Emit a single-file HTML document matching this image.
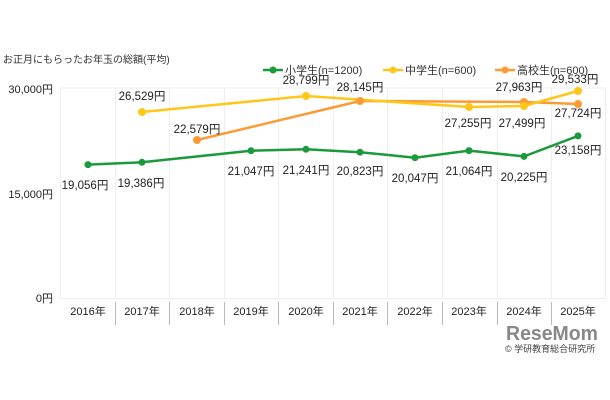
<!DOCTYPE html>
<html><head><meta charset="utf-8"><style>
body{margin:0;background:#fff;}
svg{display:block;font-family:"Liberation Sans","Noto Sans CJK JP",sans-serif;}
</style></head><body>
<svg width="610" height="400" viewBox="0 0 610 400">
<rect x="0" y="0" width="610" height="400" fill="#fff"/>
<text x="3" y="63" font-size="10" fill="#333">お正月にもらったお年玉の総額(平均)</text>
<g font-size="11" fill="#333">
<line x1="263" y1="70" x2="283" y2="70" stroke="#1a9a3a" stroke-width="2.5"/><circle cx="273" cy="70" r="3.5" fill="#1a9a3a"/>
<text x="285" y="74">小学生(n=1200)</text>
<line x1="383" y1="70" x2="403" y2="70" stroke="#ffc61a" stroke-width="2.5"/><circle cx="393" cy="70" r="3.5" fill="#ffc61a"/>
<text x="405" y="74">中学生(n=600)</text>
<line x1="495" y1="70" x2="515" y2="70" stroke="#ff9933" stroke-width="2.5"/><circle cx="505" cy="70" r="3.5" fill="#ff9933"/>
<text x="517" y="74">高校生(n=600)</text>
</g>
<g stroke="#eeeeee" stroke-width="1">
<line x1="60.5" y1="88" x2="60.5" y2="298"/><line x1="115.5" y1="88" x2="115.5" y2="298"/><line x1="169.5" y1="88" x2="169.5" y2="298"/><line x1="224.5" y1="88" x2="224.5" y2="298"/><line x1="278.5" y1="88" x2="278.5" y2="298"/><line x1="333.5" y1="88" x2="333.5" y2="298"/><line x1="387.5" y1="88" x2="387.5" y2="298"/><line x1="442.5" y1="88" x2="442.5" y2="298"/><line x1="497.5" y1="88" x2="497.5" y2="298"/><line x1="551.5" y1="88" x2="551.5" y2="298"/><line x1="605.5" y1="88" x2="605.5" y2="298"/>
<line x1="60" y1="88" x2="606" y2="88"/><line x1="60" y1="298.5" x2="606" y2="298.5"/>
</g>
<g stroke="#bbb" stroke-width="1">
<line x1="115.5" y1="302" x2="115.5" y2="325"/><line x1="169.5" y1="302" x2="169.5" y2="325"/><line x1="224.5" y1="302" x2="224.5" y2="325"/><line x1="278.5" y1="302" x2="278.5" y2="325"/><line x1="333.5" y1="302" x2="333.5" y2="325"/><line x1="387.5" y1="302" x2="387.5" y2="325"/><line x1="442.5" y1="302" x2="442.5" y2="325"/><line x1="497.5" y1="302" x2="497.5" y2="325"/><line x1="551.5" y1="302" x2="551.5" y2="325"/>
</g>
<g font-size="11" fill="#222" text-anchor="end">
<text x="53" y="93">30,000円</text><text x="53" y="198">15,000円</text><text x="53" y="302">0円</text>
</g>
<g font-size="11" fill="#222" text-anchor="middle">
<text x="88" y="315">2016年</text><text x="142" y="315">2017年</text><text x="197" y="315">2018年</text><text x="251" y="315">2019年</text><text x="306" y="315">2020年</text><text x="360" y="315">2021年</text><text x="415" y="315">2022年</text><text x="469" y="315">2023年</text><text x="524" y="315">2024年</text><text x="578" y="315">2025年</text>
</g>
<polyline fill="none" stroke="#ff9933" stroke-width="2.5" points="197,140 360,101 524,102 578,104"/>
<polyline fill="none" stroke="#ffc61a" stroke-width="2.5" points="142,112 306,96 469,107 524,106 578,91"/>
<polyline fill="none" stroke="#1a9a3a" stroke-width="2.5" points="88,164.6 142,162.3 251,150.7 306,149.3 360,152.2 415,157.7 469,150.6 524,156.4 578,135.9"/>
<g fill="#ff9933"><circle cx="197" cy="140" r="4"/><circle cx="360" cy="101" r="4"/><circle cx="524" cy="102" r="4"/><circle cx="578" cy="104" r="4"/></g>
<g fill="#ffc61a"><circle cx="142" cy="112" r="4"/><circle cx="306" cy="96" r="4"/><circle cx="469" cy="107" r="4"/><circle cx="524" cy="106" r="4"/><circle cx="578" cy="91" r="4"/></g>
<g fill="#1a9a3a"><circle cx="88" cy="164.6" r="3.5"/><circle cx="142" cy="162.3" r="3.5"/><circle cx="251" cy="150.7" r="3.5"/><circle cx="306" cy="149.3" r="3.5"/><circle cx="360" cy="152.2" r="3.5"/><circle cx="415" cy="157.7" r="3.5"/><circle cx="469" cy="150.6" r="3.5"/><circle cx="524" cy="156.4" r="3.5"/><circle cx="578" cy="135.9" r="3.5"/></g>
<g font-size="11.5" fill="#222" text-anchor="middle">
<text x="142" y="100">26,529円</text><text x="306" y="84">28,799円</text><text x="360" y="91">28,145円</text><text x="575" y="83">29,533円</text>
<text x="519" y="91">27,963円</text><text x="197" y="133">22,579円</text>
<text x="468" y="127">27,255円</text><text x="522" y="127">27,499円</text><text x="578" y="117">27,724円</text>
<text x="85" y="189">19,056円</text><text x="141" y="187">19,386円</text><text x="251" y="175">21,047円</text><text x="306" y="174">21,241円</text><text x="360" y="175">20,823円</text><text x="415" y="182">20,047円</text><text x="469" y="175">21,064円</text><text x="524" y="181">20,225円</text><text x="578" y="154">23,158円</text>
</g>
<text x="506" y="340" font-size="20" font-weight="bold" fill="#888" textLength="92" lengthAdjust="spacingAndGlyphs">ReseMom</text>
<text x="505" y="352" font-size="9" fill="#444">© 学研教育総合研究所</text>
</svg>
</body></html>
